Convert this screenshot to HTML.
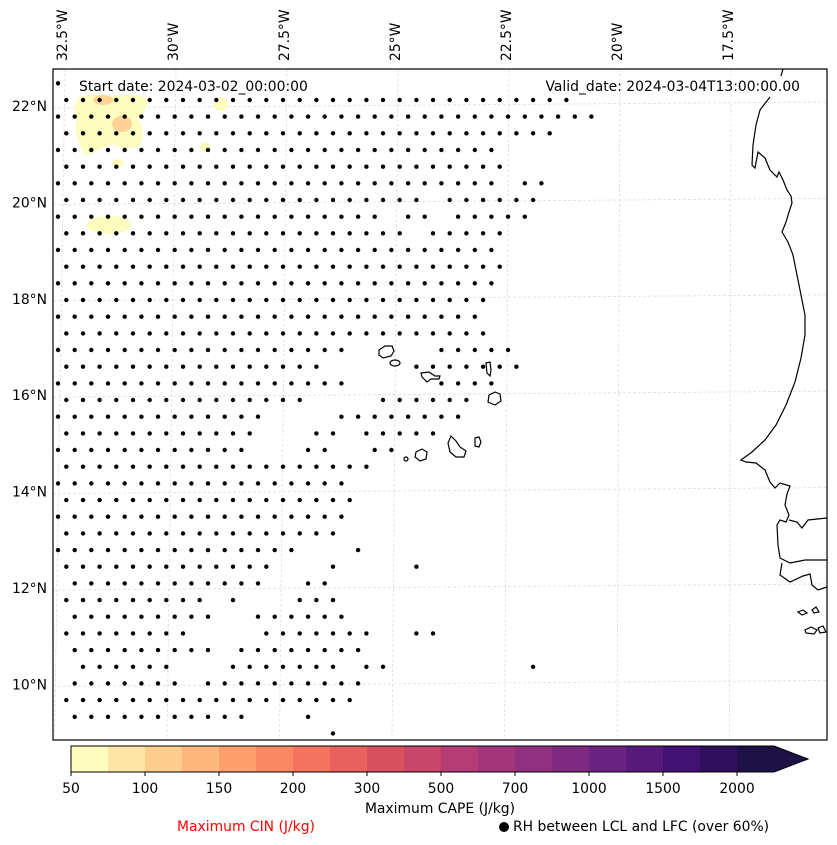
<!DOCTYPE html>
<html><head><meta charset="utf-8"><style>
html,body{margin:0;padding:0;background:#fff;}
svg{display:block;font-family:"DejaVu Sans","Liberation Sans",sans-serif;}
</style></head><body>
<svg id="chart" width="837" height="845" viewBox="0 0 837 845">
<rect width="837" height="845" fill="#fff"/>
<g id="grid"></g>
<g id="cape">
  <path d="M78,98 Q90,92 110,96 Q140,92 148,100 Q146,112 138,118 Q146,130 140,146 Q128,152 112,144 Q96,150 86,156 Q74,140 76,120 Q72,108 78,98Z" fill="#fcfdbf"/>
  <ellipse cx="122" cy="124" rx="10" ry="8" fill="#fed395"/>
  <ellipse cx="103" cy="100" rx="10" ry="5" fill="#fed395"/>
  <ellipse cx="221" cy="104" rx="7" ry="7" fill="#fcfdbf"/>
  <ellipse cx="205" cy="147" rx="5" ry="5" fill="#fcfdbf"/>
  <ellipse cx="118" cy="163" rx="6" ry="4" fill="#fcfdbf"/>
  <ellipse cx="109" cy="225" rx="22" ry="9" fill="#fcfdbf"/>
</g>
<g id="dots"></g>
<g id="coast" fill="none" stroke="#000" stroke-width="1.2">
  <path d="M783,69 L781,76 M770,97 L760,110 L756,125 L753,145 L752,165 L755,168 L758,152 L765,158 L770,170 L777,177 L779,172 L783,180 L787,190 L791,196 L792,203 L789,212 L786,222 L782,232 L788,242 L793,255 L797,275 L801,295 L805,315 L805,335 L801,358 L795,382 L786,405 L776,425 L765,440 L752,452 L741,460 L746,462 L756,463 L765,470 L770,482 L775,488 L780,483 L790,486 L787,494 L785,505 L789,515 L786,522 L780,520 L777,525 L778,545 L780,558 L790,563 L805,560 L827,560 M789,520 L797,522 L802,528 L808,520 L827,518 M782,563 L780,575 L790,582 L803,576 L810,574 L812,585 L818,590 L827,587"/>
  <path d="M798,612 l5,-2 l4,3 l-5,2z M812,610 l4,-3 l3,5 l-5,1z M805,630 l6,-3 l6,3 l-3,4 l-8,-1z M818,628 l5,-2 l3,6 l-6,1z"/>
  <path d="M379,350 l6,-4 l7,0 l2,5 l-3,5 l-8,2 l-4,-3z"/>
  <ellipse cx="395" cy="363" rx="5" ry="3"/>
  <path d="M421,373 l8,-1 l6,4 l5,0 l-1,3 l-8,0 l-4,3 l-5,-5z"/>
  <path d="M486,363 l4,-1 l1,8 l-1,6 l-3,-3z"/>
  <path d="M489,395 l6,-3 l5,2 l1,7 l-6,4 l-7,-3z"/>
  <path d="M451,436 l5,5 l4,6 l6,4 l-2,6 l-8,0 l-6,-5 l-2,-9z"/>
  <path d="M475,438 l4,-1 l2,5 l-2,5 l-4,-1z"/>
  <path d="M416,452 l6,-3 l5,3 l-1,7 l-6,2 l-5,-4z"/>
  <circle cx="406" cy="459" r="2"/>
</g>
<rect x="53" y="69" width="774" height="671" fill="none" stroke="#000" stroke-width="1.2"/>
<text x="79" y="91" font-size="13.9">Start date: 2024-03-02_00:00:00</text>
<text x="800" y="91" font-size="13.9" text-anchor="end">Valid_date: 2024-03-04T13:00:00.00</text>
<g id="xlabels" font-size="13.9"></g>
<g id="ylabels" font-size="13.9"></g>
<g id="cbar"></g>
<text x="440" y="813" font-size="13.9" text-anchor="middle">Maximum CAPE (J/kg)</text>
<text x="246" y="831" font-size="13.9" fill="#ff0000" text-anchor="middle">Maximum CIN (J/kg)</text>
<circle cx="504" cy="827" r="5" fill="#000"/>
<text x="513" y="831" font-size="13.9">RH between LCL and LFC (over 60%)</text>
</svg>
<script>
const NS="http://www.w3.org/2000/svg";
const lonLabels=["32.5°W","30°W","27.5°W","25°W","22.5°W","20°W","17.5°W"];
const lonValues=[-32.5,-30,-27.5,-25,-22.5,-20,-17.5];
const latLabels=["22°N","20°N","18°N","16°N","14°N","12°N","10°N"];
const latValues=[22,20,18,16,14,12,10];
const cbLevels=[50,75,100,125,150,175,200,250,300,400,500,600,700,800,1000,1250,1500,1750,2000];
const cbLabels=["50","100","150","200","300","500","700","1000","1500","2000"];
const cbColors=["#fcfdbf","#fde6a5","#fece8e","#feb77c","#fd9f6c","#f98964","#f3735e","#e8615f","#d8515f","#c7466a","#b53d75","#a3357a","#91307f","#7d2a80","#6a2380","#561a7b","#421272","#2f105c","#1d1146"];
const dotRows=[
[[0,0]],[[0,30]],[[0,32]],[[0,29]],[[0,26]],[[0,26]],[[0,26],[28,29]],[[0,21],[23,28]],
[[0,19],[21,22],[24,28]],[[0,20],[22,26]],[[0,26]],[[0,26]],[[0,26]],[[0,25]],[[0,25]],[[0,25]],
[[0,17],[23,27]],[[0,15],[21,27]],[[0,17],[23,26]],[[0,14],[19,24]],[[0,12],[17,24]],
[[0,11],[15,16],[18,22]],[[0,11],[15,16],[19,20]],[[0,18]],[[0,17]],[[0,17]],[[0,17]],[[0,16]],
[[0,14],[18,18]],[[0,12],[16,16],[21,21]],[[1,12],[15,16]],[[0,8],[10,10],[14,16]],[[1,9],[12,17]],
[[0,7],[12,18],[21,22]],[[1,9],[11,18]],[[1,6],[10,16],[18,19],[28,28]],[[1,7],[9,18]],[[0,17]],[[1,11],[15,15]],[[16,16]]
];
const lonX=v=>62+(v+32.5)*(666/15);
const latY=v=>106+(22-v)*48.2;
const rowY=k=>83.3+k*16.67;
const colX=(k,c)=>(k%2===0?58:66.3)+c*16.67;
const cbX=i=>71+i*37;

const grid=document.getElementById('grid');
lonValues.forEach((v,i)=>{
 const x=lonX(v);
 const l=document.createElementNS(NS,'line');
 
 
 l.setAttribute('x1',x+3);l.setAttribute('y1',69);l.setAttribute('x2',x-3+(i-3)*1.5);l.setAttribute('y2',740);
 l.setAttribute('stroke','#ddd');l.setAttribute('stroke-width','0.8');l.setAttribute('stroke-dasharray','3,2');
 grid.appendChild(l);
 const t=document.createElementNS(NS,'text');
 
 
 t.setAttribute('transform',`translate(${x+5},61) rotate(-90)`);
 t.textContent=lonLabels[i];
 document.getElementById('xlabels').appendChild(t);
});
latValues.forEach((v,i)=>{
 const y=latY(v);
 const l=document.createElementNS(NS,'line');
 
 
 l.setAttribute('x1',53);l.setAttribute('y1',y+2);l.setAttribute('x2',827);l.setAttribute('y2',y-4);
 l.setAttribute('stroke','#ddd');l.setAttribute('stroke-width','0.8');l.setAttribute('stroke-dasharray','3,2');
 grid.appendChild(l);
 const t=document.createElementNS(NS,'text');
 
 
 t.setAttribute('x',47);t.setAttribute('y',y+5);t.setAttribute('text-anchor','end');
 t.textContent=latLabels[i];
 document.getElementById('ylabels').appendChild(t);
});
const dots=document.getElementById('dots');
dotRows.forEach((segs,k)=>{
 segs.forEach(s=>{
  for(let c=s[0];c<=s[1];c++){
   const d=document.createElementNS(NS,'circle');
   
   
   d.setAttribute('cx',colX(k,c).toFixed(1));d.setAttribute('cy',rowY(k).toFixed(1));d.setAttribute('r','2.2');
   dots.appendChild(d);
  }
 });
});
const cb=document.getElementById('cbar');
cbColors.forEach((col,i)=>{
 const r=document.createElementNS(NS,'rect');
 
 
 r.setAttribute('x',cbX(i));r.setAttribute('y',746);r.setAttribute('width',37.5);r.setAttribute('height',26);
 r.setAttribute('fill',col);cb.appendChild(r);
});
const n=cbColors.length;
const ext=document.createElementNS(NS,'path');


ext.setAttribute('d',`M${cbX(n)},746 L808,759 L${cbX(n)},772 Z`);
ext.setAttribute('fill',cbColors[n-1]);cb.appendChild(ext);
const ol=document.createElementNS(NS,'path');


ol.setAttribute('d',`M71,746 L${cbX(n)},746 L808,759 L${cbX(n)},772 L71,772 Z`);
ol.setAttribute('fill','none');ol.setAttribute('stroke','#000');ol.setAttribute('stroke-width','1');cb.appendChild(ol);
cbLabels.forEach((lab,j)=>{
 const i=cbLevels.indexOf(+lab);
 const x=cbX(i);
 const tk=document.createElementNS(NS,'line');
 
 
 tk.setAttribute('x1',x);tk.setAttribute('x2',x);tk.setAttribute('y1',772);tk.setAttribute('y2',776);tk.setAttribute('stroke','#000');
 cb.appendChild(tk);
 const t=document.createElementNS(NS,'text');
 
 
 t.setAttribute('x',x);t.setAttribute('y',793);t.setAttribute('text-anchor','middle');t.setAttribute('font-size','13.9');
 t.textContent=lab;cb.appendChild(t);
});
</script>
</body></html>
